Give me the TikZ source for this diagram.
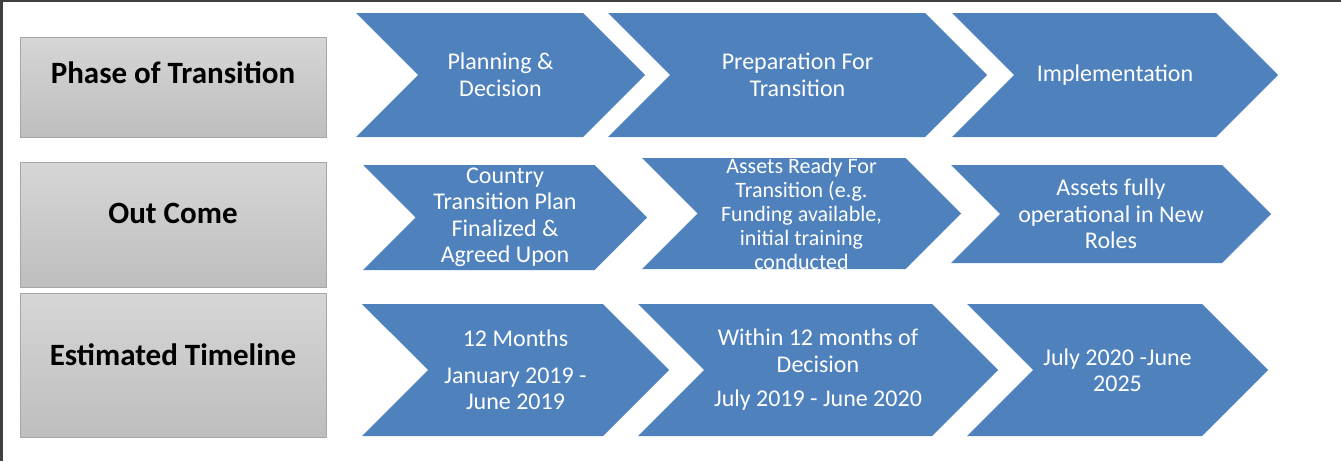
\documentclass[tikz,border=0pt]{standalone}
\usepackage{fontspec}
\setmainfont{Carlito}
\usepackage{tikz}
\usetikzlibrary{shapes.symbols}
\definecolor{chevblue}{RGB}{79,129,189}
\definecolor{headtop}{RGB}{214,214,214}
\definecolor{headbot}{RGB}{190,190,190}
\definecolor{headline}{RGB}{166,166,166}
\definecolor{framegray}{RGB}{64,64,64}
\tikzstyle{chevron}=[signal,signal from=west,signal to=east,signal pointer angle=90,fill=chevblue,inner sep=0pt,text=white,align=center,font=\fontsize{24}{26.5}\selectfont]
\tikzstyle{chevtext}=[text=white,align=center,inner sep=0pt,font=\fontsize{22}{24}\selectfont]
\tikzstyle{headbox}=[rectangle,draw=headline,line width=1pt,top color=headtop,bottom color=headbot,minimum width=306pt,inner sep=0pt]
\tikzstyle{headtext}=[anchor=base,inner sep=0pt,font=\bfseries\fontsize{31}{34}\selectfont]
\newcommand{\pxunit}{1pt}

\begin{document}
\begin{tikzpicture}[x=\pxunit,y=-\pxunit]
    \useasboundingbox (0,0) rectangle (1341,461);
    \draw[framegray,line width=1.5pt] (0,0.75) -- (1341,0.75);
    \draw[framegray,line width=2.5pt] (1.25,0) -- (1.25,461);
    % row heads
    \node[headbox,minimum height=100pt] (hphase) at (173,87)    {};
    \node[headbox,minimum height=125pt] (hout)   at (173,224.5) {};
    \node[headbox,minimum height=144pt] (htime)  at (173,365)   {};
    \node[headtext] (tphase) at (173,83)  {Phase of Transition};
    \node[headtext] (tout)   at (173,223) {Out Come};
    \node[headtext] (ttime)  at (173,365) {Estimated Timeline};
    % phase of transition
    \node[chevron,minimum width=289pt,minimum height=124pt] (ph1) at (500.5,75)  {Planning \&\\Decision};
    \node[chevron,minimum width=379pt,minimum height=124pt] (ph2) at (797.5,75)  {Preparation For\\Transition};
    \node[chevron,minimum width=326pt,minimum height=124pt] (ph3) at (1115,75)   {Implementation};
    % out come
    \node[chevron,minimum width=284pt,minimum height=105pt] (oc1) at (505,217.5) {Country\\Transition Plan\\Finalized \&\\Agreed Upon};
    \node[chevron,minimum width=319pt,minimum height=111pt] (oc2) at (801.5,213.5) {};
    \begin{scope}
        \clip ([xshift=-160pt]oc2.north) rectangle ([xshift=160pt]oc2.south);
        \node[chevtext] (oc2t) at (oc2.center) {Assets Ready For\\Transition (e.g.\\Funding available,\\initial training\\conducted};
    \end{scope}
    \node[chevron,minimum width=320pt,minimum height=98pt]  (oc3) at (1111,214)  {Assets fully\\operational in New\\Roles};
    % estimated timeline
    \node[chevron,minimum width=307pt,minimum height=132pt] (tl1) at (515.5,370) {12 Months\\[10pt]January 2019 -\\June 2019};
    \node[chevron,minimum width=360pt,minimum height=132pt] (tl2) at (818,370)   {Within 12 months of\\Decision\\[8pt]July 2019 - June 2020};
    \node[chevron,minimum width=301pt,minimum height=132pt] (tl3) at (1117.5,370) {July 2020 -June\\2025};
\end{tikzpicture}
\end{document}
